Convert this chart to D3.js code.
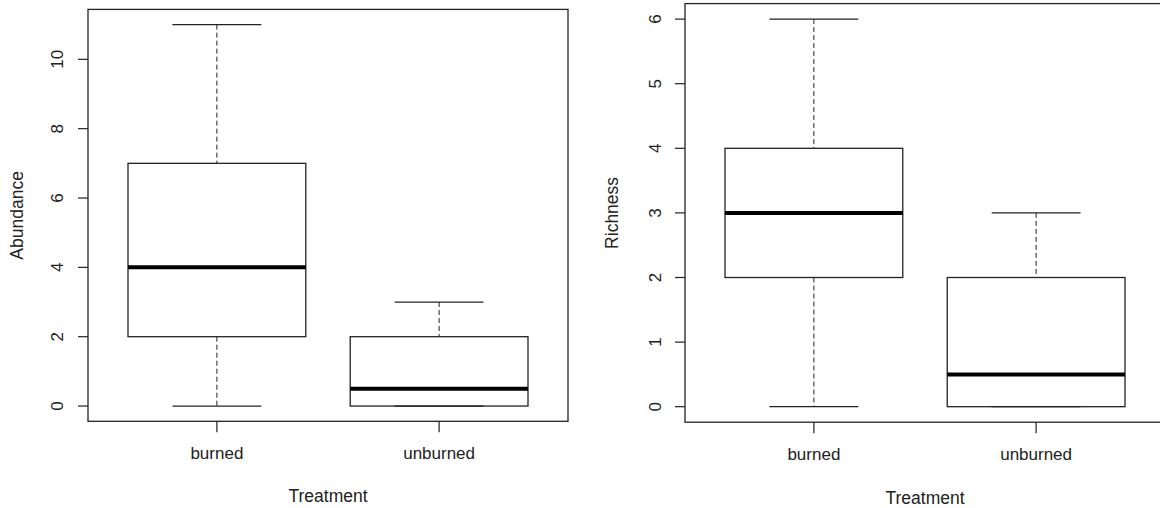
<!DOCTYPE html>
<html>
<head>
<meta charset="utf-8">
<script src="https://cdn.jsdelivr.net/npm/d3@7"></script>
<style>
  body { margin: 0; background: #fff; }
  svg { display: block; font-family: "Liberation Sans", Arial, sans-serif; }
</style>
</head>
<body>
<div id="chart"></div>
<script>
// Boxplot summaries: [min, q1, median, q3, max]
const treatments = ["burned", "unburned"];
const abundanceStats = [[0, 2, 4, 7, 11], [0, 0, 0.5, 2, 3]];
const richnessStats = [[0, 2, 3, 4, 6], [0, 0, 0.5, 2, 3]];
const abundanceTicks = [0, 2, 4, 6, 8, 10];
const richnessTicks = [0, 1, 2, 3, 4, 5, 6];

const svg = d3.select("#chart").append("svg")
    .attr("width", 1160)
    .attr("height", 508);

function drawBoxplot(opts) {
    const {left, right, top, bottom, stats, ticks, ylabel, ylabelX, tickLabelX, xLabelY, axisTitleY} = opts;

    // R style: pad ranges by 4%
    const yMax = d3.max(stats, d => d[4]);
    const yPad = yMax * 0.04;
    const y = d3.scaleLinear().domain([-yPad, yMax + yPad]).range([bottom, top]);
    const x = d3.scaleLinear().domain([0.42, 2.58]).range([left, right]);

    const g = svg.append("g");
    const ink = "#222";

    // Frame
    g.append("rect")
        .attr("x", left).attr("y", top)
        .attr("width", right - left).attr("height", bottom - top)
        .attr("fill", "none").attr("stroke", ink).attr("stroke-width", 1.3);

    // Y axis ticks + labels
    ticks.forEach(t => {
        g.append("line")
            .attr("x1", left - 10).attr("x2", left)
            .attr("y1", y(t)).attr("y2", y(t))
            .attr("stroke", ink).attr("stroke-width", 1.2);
        g.append("text")
            .attr("transform", `translate(${tickLabelX},${y(t)}) rotate(-90)`)
            .attr("text-anchor", "middle")
            .attr("dy", "0.35em")
            .style("font-size", "17px")
            .attr("fill", "#222")
            .text(t);
    });

    // X ticks + labels
    treatments.forEach((name, i) => {
        const cx = x(i + 1);
        g.append("line")
            .attr("x1", cx).attr("x2", cx)
            .attr("y1", bottom).attr("y2", bottom + 11)
            .attr("stroke", ink).attr("stroke-width", 1.2);
        g.append("text")
            .attr("x", cx).attr("y", xLabelY)
            .attr("text-anchor", "middle")
            .style("font-size", "17px")
            .attr("fill", "#222")
            .text(name);
    });

    // Axis titles
    g.append("text")
        .attr("x", (left + right) / 2).attr("y", axisTitleY)
        .attr("text-anchor", "middle")
        .style("font-size", "17.5px")
        .attr("fill", "#222")
        .text("Treatment");
    g.append("text")
        .attr("transform", `translate(${ylabelX},${(top + bottom) / 2}) rotate(-90)`)
        .attr("text-anchor", "middle")
        .attr("dy", "0.35em")
        .style("font-size", "17.5px")
        .attr("fill", "#222")
        .text(ylabel);

    // Boxes
    stats.forEach((s, i) => {
        const c = i + 1;
        const [mn, q1, med, q3, mx] = s;
        // whiskers (dashed)
        if (q3 < mx) {
            g.append("line")
                .attr("x1", x(c)).attr("x2", x(c))
                .attr("y1", y(mx)).attr("y2", y(q3))
                .attr("stroke", ink).attr("stroke-dasharray", "5,3");
        }
        if (mn < q1) {
            g.append("line")
                .attr("x1", x(c)).attr("x2", x(c))
                .attr("y1", y(q1)).attr("y2", y(mn))
                .attr("stroke", ink).attr("stroke-dasharray", "5,3");
        }
        // staples
        [mn, mx].forEach(v => {
            g.append("line")
                .attr("x1", x(c - 0.2)).attr("x2", x(c + 0.2))
                .attr("y1", y(v)).attr("y2", y(v))
                .attr("stroke", ink).attr("stroke-width", 1.2);
        });
        // box
        g.append("rect")
            .attr("x", x(c - 0.4)).attr("y", y(q3))
            .attr("width", x(c + 0.4) - x(c - 0.4))
            .attr("height", y(q1) - y(q3))
            .attr("fill", "none").attr("stroke", ink).attr("stroke-width", 1.3);
        // median
        g.append("line")
            .attr("x1", x(c - 0.4)).attr("x2", x(c + 0.4))
            .attr("y1", y(med)).attr("y2", y(med))
            .attr("stroke", "#000").attr("stroke-width", 4);
    });
}

drawBoxplot({
    left: 88, right: 568, top: 9.4, bottom: 421.3,
    stats: abundanceStats, ticks: abundanceTicks, ylabel: "Abundance",
    ylabelX: 17, tickLabelX: 57, xLabelY: 459, axisTitleY: 502
});

drawBoxplot({
    left: 685, right: 1165, top: 3.6, bottom: 422.2,
    stats: richnessStats, ticks: richnessTicks, ylabel: "Richness",
    ylabelX: 612, tickLabelX: 655, xLabelY: 460, axisTitleY: 504
});
</script>
</body>
</html>
